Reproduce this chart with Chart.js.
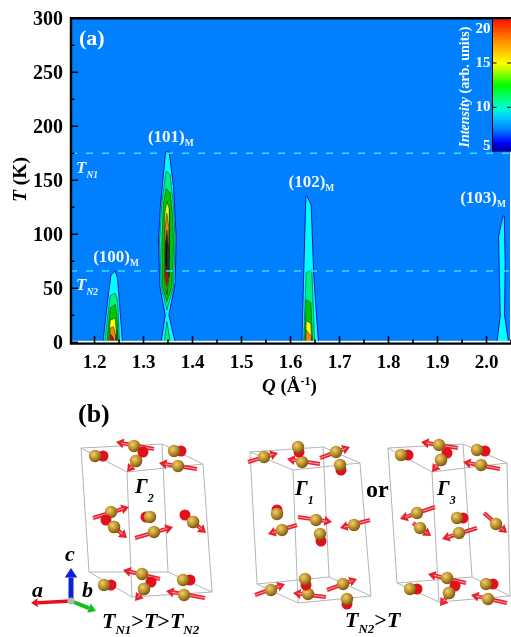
<!DOCTYPE html>
<html>
<head>
<meta charset="utf-8">
<style>
  html, body { margin: 0; padding: 0; background: #fff; }
  #wrap { position: relative; width: 511px; height: 637px; overflow: hidden; }
  canvas { position: absolute; left: 0; top: 0; }
  svg { position: absolute; left: 0; top: 0; }
  svg text { font-family: "Liberation Serif", serif; font-weight: bold; fill: #000; }
</style>
<script src="https://cdn.jsdelivr.net/npm/chart.js@4"></script>
</head>
<body>
<div id="wrap">
  <canvas id="myChart" width="511" height="637"></canvas>
  <svg id="crystal" width="511" height="637" xmlns="http://www.w3.org/2000/svg"></svg>
</div>
<script>
// axis ranges and tick labels
var qRange = [1.15, 2.05];
var tRange = [0, 300];
var qStep = 0.05;
var tStep = 25;
var transitionTemps = [175, 66];   // T_N1, T_N2

// contour polygons, [Q, T] pairs, outer level first
var p100_cyan   = [[1.217,0],[1.2286,45.4],[1.2334,62.3],[1.2422,66],[1.247,59.3],[1.2511,36],[1.2572,0]];
var p100_spring = [[1.2205,0],[1.232,43.2],[1.2422,45.4],[1.247,39],[1.2511,0]];
var p100_green  = [[1.2252,0],[1.232,31.5],[1.2422,35.2],[1.2456,23.8],[1.2484,0]];
var p100_yellow = [[1.2293,0],[1.232,20.7],[1.2422,22.2],[1.2443,11.4],[1.2456,0]];
var p100_orange = [[1.2307,0],[1.232,13],[1.2388,14.5],[1.2429,6.8],[1.2436,0]];
var p100_red    = [[1.232,0],[1.232,7.7],[1.2375,5],[1.2409,0]];

var p101_cyan   = [[1.3361,0],[1.3443,25.3],[1.3334,51.5],[1.3307,94.7],[1.3341,124],[1.345,176.2],[1.3524,176.2],[1.3613,144],[1.3667,97.8],[1.3647,54.6],[1.3518,25.3],[1.3647,0]];
var p101_spring = [[1.3463,158.6],[1.3545,154.9],[1.3613,125.6],[1.3647,94.7],[1.3613,51.5],[1.3477,29.9],[1.3361,51.5],[1.3327,94.7],[1.3375,130.2]];
var p101_foot   = [[1.3422,0],[1.3477,19],[1.3545,0]];
var p101_green  = [[1.3463,142.6],[1.3545,138],[1.3592,116.4],[1.3613,91.7],[1.3579,51.5],[1.3477,37.7],[1.3388,51.5],[1.3375,91.7],[1.3409,128.7]];
var p101_yellow = [[1.3477,130.2],[1.3524,124],[1.3531,104],[1.3531,75],[1.3477,43.8],[1.3443,51.5],[1.3422,91.7],[1.3436,119.4]];
var p101_orange = [[1.3477,119.4],[1.3524,104],[1.3524,60.8],[1.3477,45.4],[1.3436,60.8],[1.3436,104]];
var p101_red    = [[1.3477,104],[1.3511,88.6],[1.3511,60.8],[1.3477,51.5],[1.3443,60.8],[1.3443,88.6]];
var p101_dark   = [[1.3477,99.4],[1.3497,88.6],[1.349,73.1],[1.3477,63.9],[1.345,73.1],[1.345,88.6]];

var p102_cyan   = [[1.6232,0],[1.6266,57.7],[1.6314,135.5],[1.6334,135.5],[1.6423,127],[1.647,67],[1.6504,42.3],[1.6572,0]];
var p102_spring = [[1.6266,0],[1.6321,64.5],[1.6436,67],[1.6491,0]];
var p102_green  = [[1.6287,0],[1.6321,39.2],[1.6416,36.7],[1.645,0]];
var p102_yellow = [[1.6307,0],[1.6321,20],[1.6416,17.6],[1.643,0]];
var p102_orange = [[1.6314,0],[1.6321,11.4],[1.643,5],[1.643,0]];

var p103_cyan   = [[2.0212,0],[2.028,24.4],[2.0246,97.8],[2.0334,117],[2.0362,117],[2.0382,73.1],[2.0368,25.3],[2.045,0]];

var contourPolys  = [p100_cyan, p100_spring, p100_green, p100_yellow, p100_orange, p100_red,
                     p101_cyan, p101_spring, p101_foot, p101_green, p101_yellow, p101_orange, p101_red, p101_dark,
                     p102_cyan, p102_spring, p102_green, p102_yellow, p102_orange,
                     p103_cyan];
var contourLevels = [0,1,2,3,4,5, 0,1,1,2,3,4,5,6, 0,1,2,3,4, 0];
var levelColors   = ['#00ffff', '#00f088', '#00c800', '#ffff00', '#ff8000', '#d80000', '#200000'];

// colour bar stops
var barValues = [5, 6, 7.5, 9, 10, 12.5, 15, 17.5, 20];
var barColors = ['#000090', '#0000ff', '#0080ff', '#00d0ff', '#00ffd0', '#00ff00', '#ffff00', '#ff9000', '#ff1000'];
var barLabels = ['20', '15', '10', '5'];

// peak labels
var peakNames = ['(100)', '(101)', '(102)', '(103)'];
var peakQ = [1.2361, 1.3478, 1.6347, 1.985];
var peakT = [74.6, 185.7, 144, 129];

var serif = '"Liberation Serif", serif';

function drawRuns(ctx, x, y, runs, color) {
    // runs: [text, css font, baseline shift]
    ctx.save();
    ctx.fillStyle = color;
    ctx.textAlign = 'left';
    ctx.textBaseline = 'alphabetic';
    var cx = x;
    runs.forEach(function (r) {
        ctx.font = r[1] + ' ' + serif;
        ctx.fillText(r[0], cx, y + (r[2] || 0));
        cx += ctx.measureText(r[0]).width;
    });
    ctx.restore();
}

var plotFrame = {
    id: 'plotFrame',
    beforeDraw: function (chart) {
        // digits sit high on the middle baseline, nudge the T labels down
        chart.scales.y.getLabelItems().forEach(function (item) { item.textOffset += 1.7; });
    },
    beforeDatasetsDraw: function (chart) {
        var a = chart.chartArea, ctx = chart.ctx;
        ctx.save();
        ctx.fillStyle = '#0080ff';
        ctx.fillRect(a.left, a.top, a.right - a.left - 1, a.bottom - a.top);
        ctx.restore();
    },
    afterDatasetsDraw: function (chart) {
        var a = chart.chartArea, ctx = chart.ctx;
        var xs = chart.scales.x, ys = chart.scales.y;
        ctx.save();

        // white sliver between contour base and axis
        ctx.fillStyle = '#fff';
        ctx.fillRect(a.left, 340.8, a.right - a.left, 2);

        // frame
        ctx.strokeStyle = '#000';
        ctx.lineWidth = 2.4;
        ctx.beginPath();
        ctx.moveTo(511, 18.2); ctx.lineTo(71, 18.2); ctx.lineTo(71, 343.6); ctx.lineTo(511, 343.6);
        ctx.stroke();

        // inward ticks
        ctx.lineWidth = 1.6;
        ctx.beginPath();
        xs.ticks.forEach(function (t) {
            var px = xs.getPixelForValue(t.value);
            if (px < 72) return;
            var major = Math.round(t.value * 100) % 10 === 0;
            ctx.moveTo(px, 343); ctx.lineTo(px, major ? 336 : 339.5);
        });
        ys.ticks.forEach(function (t) {
            var py = ys.getPixelForValue(t.value);
            var major = t.value % 50 === 0;
            ctx.moveTo(71, py); ctx.lineTo(major ? 78 : 74.5, py);
        });
        ctx.stroke();

        // colour bar
        var barTop = 19.5, barBottom = 151.7, barLeft = 492.5;
        var grad = ctx.createLinearGradient(0, barBottom, 0, barTop);
        barValues.forEach(function (v, i) {
            grad.addColorStop((v - barValues[0]) / (barValues[barValues.length - 1] - barValues[0]), barColors[i]);
        });
        ctx.fillStyle = grad;
        ctx.fillRect(barLeft, barTop, 511 - barLeft, barBottom - barTop);
        ctx.strokeStyle = '#000';
        ctx.lineWidth = 1;
        ctx.beginPath();
        ctx.moveTo(barLeft, barTop); ctx.lineTo(barLeft, barBottom);
        [63, 107.3].forEach(function (py) {
            ctx.moveTo(barLeft, py); ctx.lineTo(barLeft + 4, py);
            ctx.moveTo(507, py); ctx.lineTo(511, py);
        });
        ctx.stroke();
        ctx.fillStyle = '#fff';
        ctx.font = 'bold 15px ' + serif;
        ctx.textAlign = 'right';
        ctx.textBaseline = 'middle';
        [29, 63, 107.5, 146].forEach(function (py, i) { ctx.fillText(barLabels[i], 490.5, py); });

        // rotated bar title
        ctx.save();
        ctx.translate(469, 147.5);
        ctx.rotate(-Math.PI / 2);
        drawRuns(ctx, 0, 0, [['Intensity', 'italic bold 14px'], [' (arb. units)', 'bold 14px']], '#fff');
        ctx.restore();

        // panel letter and peak labels
        drawRuns(ctx, 79, 45, [['(a)', 'bold 22px']], '#fff');
        peakNames.forEach(function (name, i) {
            var px = xs.getPixelForValue(peakQ[i]) - 19, py = ys.getPixelForValue(peakT[i]);
            drawRuns(ctx, px, py, [[name, 'bold 17px'], ['M', 'bold 9.5px', 4]], '#f0f4ff');
        });
        drawRuns(ctx, 76, 173, [['T', 'italic bold 17px'], ['N1', 'italic bold 9.5px', 5]], '#e8f4ff');
        drawRuns(ctx, 76, 290, [['T', 'italic bold 17px'], ['N2', 'italic bold 9.5px', 5]], '#e8f4ff');

        // axis titles
        drawRuns(ctx, 262, 392, [['Q', 'italic bold 19px'], [' (Å', 'bold 19px'], ['-1', 'bold 12px', -7], [')', 'bold 19px']], '#000');
        ctx.save();
        ctx.translate(26, 202);
        ctx.rotate(-Math.PI / 2);
        drawRuns(ctx, 0, 0, [['T', 'italic bold 19.5px'], [' (K)', 'bold 19.5px']], '#000');
        ctx.restore();

        ctx.restore();
    }
};

var datasets = [];
// dashed transition lines go last so they sit on top of the contours
transitionTemps.forEach(function (t) {
    datasets.push({
        data: [{ x: qRange[0], y: t }, { x: qRange[1], y: t }],
        showLine: true, pointRadius: 0, fill: false,
        borderColor: '#30e0ff', borderWidth: 1.6, borderDash: [7, 9],
        order: 0
    });
});
contourPolys.forEach(function (poly, i) {
    var pts = poly.map(function (p) { return { x: p[0], y: p[1] }; });
    pts.push(pts[0]);
    var level = contourLevels[i];
    datasets.push({
        data: pts,
        showLine: true, pointRadius: 0, tension: 0,
        fill: 'shape',
        backgroundColor: levelColors[level],
        borderColor: level === 0 ? '#0000c8' : '#0a4028',
        borderWidth: level === 0 ? 0.9 : 0.6,
        order: contourPolys.length - i
    });
});

var ctx = document.getElementById('myChart').getContext('2d');
var myChart = new Chart(ctx, {
    type: 'scatter',
    data: { datasets: datasets },
    plugins: [plotFrame],
    options: {
        responsive: false,
        animation: false,
        layout: { padding: { top: 18.3, right: 0, left: 0, bottom: 0 } },
        plugins: { legend: { display: false }, tooltip: { enabled: false } },
        scales: {
            x: {
                type: 'linear',
                min: qRange[0],
                max: qRange[1],
                afterFit: function (s) {
                    s.height = 637 - 342.3;
                    s.paddingLeft = 0;
                    s.paddingRight = 0;
                },
                grid: { display: false, drawTicks: false },
                border: { display: false },
                ticks: {
                    stepSize: qStep,
                    autoSkip: false,
                    maxRotation: 0,
                    padding: 9,
                    color: '#000',
                    font: { family: serif, weight: 'bold', size: 19 },
                    callback: function (v) {
                        return Math.round(v * 100) % 10 === 0 ? v.toFixed(1) : '';
                    }
                }
            },
            y: {
                type: 'linear',
                min: tRange[0],
                max: tRange[1],
                afterFit: function (s) {
                    s.width = 70;
                    s.paddingTop = 0;
                    s.paddingBottom = 0;
                },
                grid: { display: false, drawTicks: false },
                border: { display: false },
                ticks: {
                    stepSize: tStep,
                    autoSkip: false,
                    padding: 7,
                    color: '#000',
                    font: { family: serif, weight: 'bold', size: 20 },
                    callback: function (v) { return v % 50 === 0 ? String(v) : ''; }
                }
            }
        }
    }
});

// ---- panel (b), crystal cell sketches, plain svg ----
var svg = document.getElementById('crystal');
var NS = 'http://www.w3.org/2000/svg';
function el(name, attrs, parent) {
    var e = document.createElementNS(NS, name);
    for (var k in attrs) e.setAttribute(k, attrs[k]);
    (parent || svg).appendChild(e);
    return e;
}
var defs = el('defs', {});
var gold = el('radialGradient', { id: 'gold', cx: '0.38', cy: '0.35', r: '0.7' }, defs);
el('stop', { offset: '0', 'stop-color': '#f0d070' }, gold);
el('stop', { offset: '0.55', 'stop-color': '#b88c28' }, gold);
el('stop', { offset: '1', 'stop-color': '#6c5010' }, gold);

function cell(top, bottom) {
    var front = { fill: 'none', stroke: '#b4b4b4', 'stroke-width': 1 };
    el('polygon', Object.assign({ points: top.map(String).join(' ') }, front));
    el('polygon', Object.assign({ points: bottom.map(String).join(' ') }, front));
    top.forEach(function (p, i) {
        el('line', Object.assign({ x1: p[0], y1: p[1], x2: bottom[i][0], y2: bottom[i][1] }, front));
    });
}
function arrow(x1, y1, x2, y2, color, w) {
    var dx = x2 - x1, dy = y2 - y1, len = Math.sqrt(dx * dx + dy * dy);
    var ux = dx / len, uy = dy / len, hl = w * 1.9, hw = w * 1.25;
    var bx = x2 - ux * hl, by = y2 - uy * hl;
    el('line', { x1: x1, y1: y1, x2: bx, y2: by, stroke: color, 'stroke-width': w });
    el('polygon', {
        points: x2 + ',' + y2 + ' ' + (bx - uy * hw) + ',' + (by + ux * hw) + ' ' + (bx + uy * hw) + ',' + (by - ux * hw),
        fill: color
    });
}
function atomArrow(a) {
    // [atomX, atomY, tailX, tailY, headX, headY]
    arrow(a[2], a[3], a[4], a[5], '#e8202c', 4);
    el('line', { x1: a[2], y1: a[3], x2: a[0] + (a[4] - a[0]) * 0.7, y2: a[1] + (a[5] - a[1]) * 0.7, stroke: '#ffa0a8', 'stroke-width': 1 });
    atom(a[0], a[1]);
}
function atomBall(a) {
    // [atomX, atomY, ballX, ballY], arrow pointing roughly along the view
    el('circle', { cx: a[2], cy: a[3], r: 5.5, fill: '#e0101c' });
    atom(a[0], a[1]);
}
function atom(x, y) {
    el('circle', { cx: x, cy: y, r: 6.2, fill: 'url(#gold)' });
}

cell([[81,448],[127,472],[203,464],[162,444]], [[89,572],[132,597],[212,592],[168,572]]);
[[134,446,154,449,116,442],[178,466,197,469,159,463],[111,512,93,518,129,507],[154,532,135,538,173,527],
 [142,574,160,579,123,570],[184,595,205,598,166,591],[136,461,142,454,127,472],[114,527,108,522,127,538],
 [193,522,186,516,206,533],[144,589,150,583,135,601]].forEach(atomArrow);
[[174,451,181,451],[95,456,103,456],[136,461,143,452],[114,527,106,520],[150,517,146,517],[193,522,185,515],
 [183,580,190,580],[104,585,111,585],[144,589,151,582]].forEach(atomBall);

cell([[250,452],[293,470],[360,463],[323,447]], [[257,584],[298,603],[371,596],[329,577]]);
[[264,457,248,462,278,453],[302,462,320,464,287,459],[336,452,320,458,350,447],[282,530,297,525,268,534],
 [316,520,298,517,332,522],[354,525,370,520,340,528],[271,590,255,595,285,584],[308,594,326,597,293,593],
 [343,584,327,590,357,579]].forEach(atomArrow);
[[298,447,299,452],[340,465,341,470],[277,514,277,510],[320,534,321,541],[305,579,306,585],[347,599,347,604]].forEach(atomBall);

cell([[388,448],[432,472],[507,463],[463,444]], [[397,583],[439,602],[510,596],[472,577]]);
[[439,445,458,448,421,442],[481,465,500,469,463,462],[441,460,447,453,432,472],[417,513,435,507,400,519],
 [420,528,413,523,431,536],[459,533,477,528,442,539],[496,524,484,513,507,533],[447,578,466,583,428,574],
 [488,599,507,603,471,595],[449,593,455,586,440,606]].forEach(atomArrow);
[[477,450,485,451],[401,455,408,455],[441,460,447,453],[457,518,463,518],[486,584,493,584],[410,589,417,589],[449,593,455,586]].forEach(atomBall);

// axis triad
arrow(71, 601, 71, 568, '#1020d8', 5);
arrow(71, 601, 31, 603, '#e8101c', 3.5);
arrow(71, 601, 96, 611, '#10c020', 4);
el('circle', { cx: 71, cy: 601, r: 3.5, fill: '#b0b8b0' });

function label(x, y, parts) {
    var t = el('text', { x: x, y: y });
    parts.forEach(function (p) {
        var s = el('tspan', { 'font-size': p[1], 'font-style': p[2] ? 'italic' : 'normal' }, t);
        if (p[3]) s.setAttribute('dy', p[3]);
        s.textContent = p[0];
    });
}
label(78, 422, [['(b)', 26]]);
label(135, 493, [['Γ', 21, true], ['2', 12, true, 9]]);
label(295, 495, [['Γ', 21, true], ['1', 12, true, 9]]);
label(437, 495, [['Γ', 21, true], ['3', 12, true, 9]]);
label(366, 497, [['or', 24]]);
label(65, 561, [['c', 22, true]]);
label(32, 597, [['a', 22, true]]);
label(82, 597, [['b', 22, true]]);
label(102, 628, [['T', 22, true], ['N1', 13, true, 6], ['>', 22, false, -6], ['T', 22, true], ['>', 22], ['T', 22, true], ['N2', 13, true, 6]]);
label(345, 627, [['T', 22, true], ['N2', 13, true, 6], ['>', 22, false, -6], ['T', 22, true]]);
</script>
</body>
</html>
